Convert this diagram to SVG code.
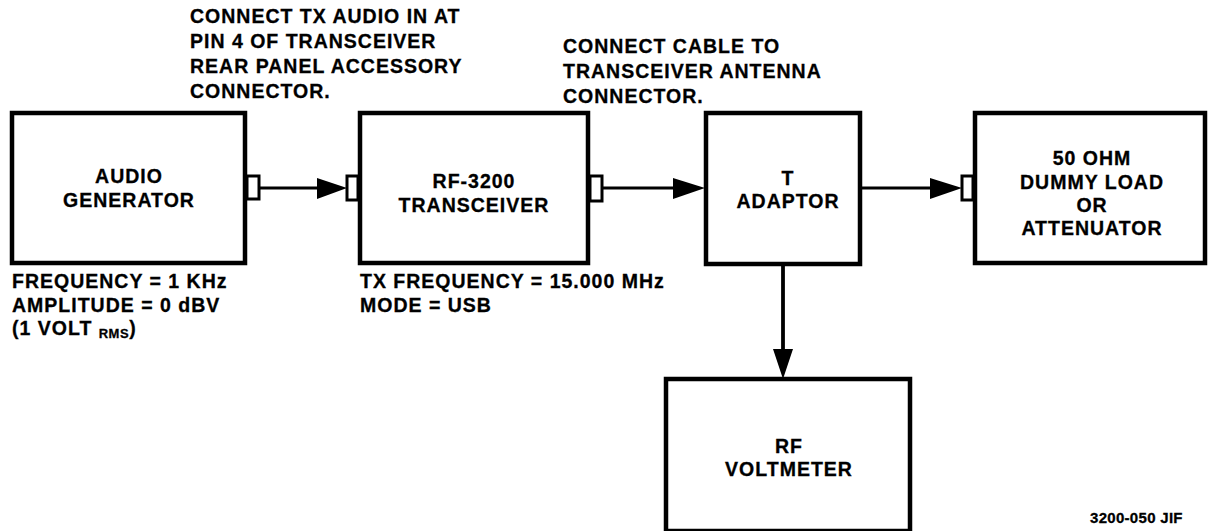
<svg xmlns="http://www.w3.org/2000/svg" width="1208" height="531" viewBox="0 0 1208 531">
<style>
.box{fill:#fff;stroke:#000;stroke-width:4.5}
.jack{fill:#fff;stroke:#000;stroke-width:3}
.wire{fill:none;stroke:#000;stroke-width:3.2}
.head{fill:#000}
text{font-family:"Liberation Sans",Arial,sans-serif;font-weight:bold;font-size:19.5px;letter-spacing:1px;fill:#000;stroke:#000;stroke-width:0.3}
.c{text-anchor:middle}
.sub{font-size:13px;letter-spacing:0.5px}
.tag{font-size:15px;letter-spacing:0.3px}
</style>
<rect width="1208" height="531" fill="#fff"/>
<g id="connectors">
<line class="wire" x1="259" y1="188" x2="320" y2="188"/>
<polygon class="head" points="317,178 347,188 317,199"/>
<line class="wire" x1="602" y1="188" x2="676" y2="188"/>
<polygon class="head" points="673,178 705,188 673,199"/>
<line class="wire" x1="860" y1="188" x2="933" y2="188"/>
<polygon class="head" points="930,178 962,188 930,199"/>
<line class="wire" x1="783" y1="265" x2="783" y2="352" style="stroke-width:3.8"/>
<polygon class="head" points="773,349 783,379 793,349"/>
</g>
<g id="audio-generator">
<rect class="box" x="12" y="113" width="233" height="150"/>
<rect class="jack" x="247" y="176" width="12" height="23"/>
<text class="c" x="129" y="183">AUDIO</text>
<text class="c" x="129" y="207">GENERATOR</text>
</g>
<g id="transceiver">
<rect class="box" x="360" y="113" width="228" height="150"/>
<rect class="jack" x="347" y="176" width="11" height="24"/>
<rect class="jack" x="590" y="176" width="12" height="25"/>
<text class="c" x="474" y="188">RF-3200</text>
<text class="c" x="474" y="212">TRANSCEIVER</text>
</g>
<g id="t-adaptor">
<rect class="box" x="706" y="113" width="154" height="151"/>
<text class="c" x="788" y="185">T</text>
<text class="c" x="788" y="208">ADAPTOR</text>
</g>
<g id="dummy-load">
<rect class="box" x="975" y="113" width="230" height="150"/>
<rect class="jack" x="962" y="176" width="11" height="24"/>
<text class="c" x="1092" y="165">50 OHM</text>
<text class="c" x="1092" y="189">DUMMY LOAD</text>
<text class="c" x="1092" y="212">OR</text>
<text class="c" x="1092" y="235">ATTENUATOR</text>
</g>
<g id="rf-voltmeter">
<rect class="box" x="666" y="379" width="244" height="152"/>
<text class="c" x="789" y="453">RF</text>
<text class="c" x="789" y="476">VOLTMETER</text>
</g>
<g id="notes">
<text x="190" y="23">CONNECT TX AUDIO IN AT</text>
<text x="190" y="48">PIN 4 OF TRANSCEIVER</text>
<text x="190" y="73">REAR PANEL ACCESSORY</text>
<text x="190" y="98">CONNECTOR.</text>
<text x="563" y="53">CONNECT CABLE TO</text>
<text x="563" y="78">TRANSCEIVER ANTENNA</text>
<text x="563" y="103">CONNECTOR.</text>
<text x="12" y="288">FREQUENCY = 1 KHz</text>
<text x="12" y="312">AMPLITUDE = 0 dBV</text>
<text x="12" y="335">(1 VOLT <tspan class="sub" dy="3">RMS</tspan><tspan dy="-3">)</tspan></text>
<text x="360" y="288">TX FREQUENCY = 15.000 MHz</text>
<text x="360" y="312">MODE = USB</text>
<text class="tag" x="1090" y="523">3200-050 JIF</text>
</g>
</svg>
